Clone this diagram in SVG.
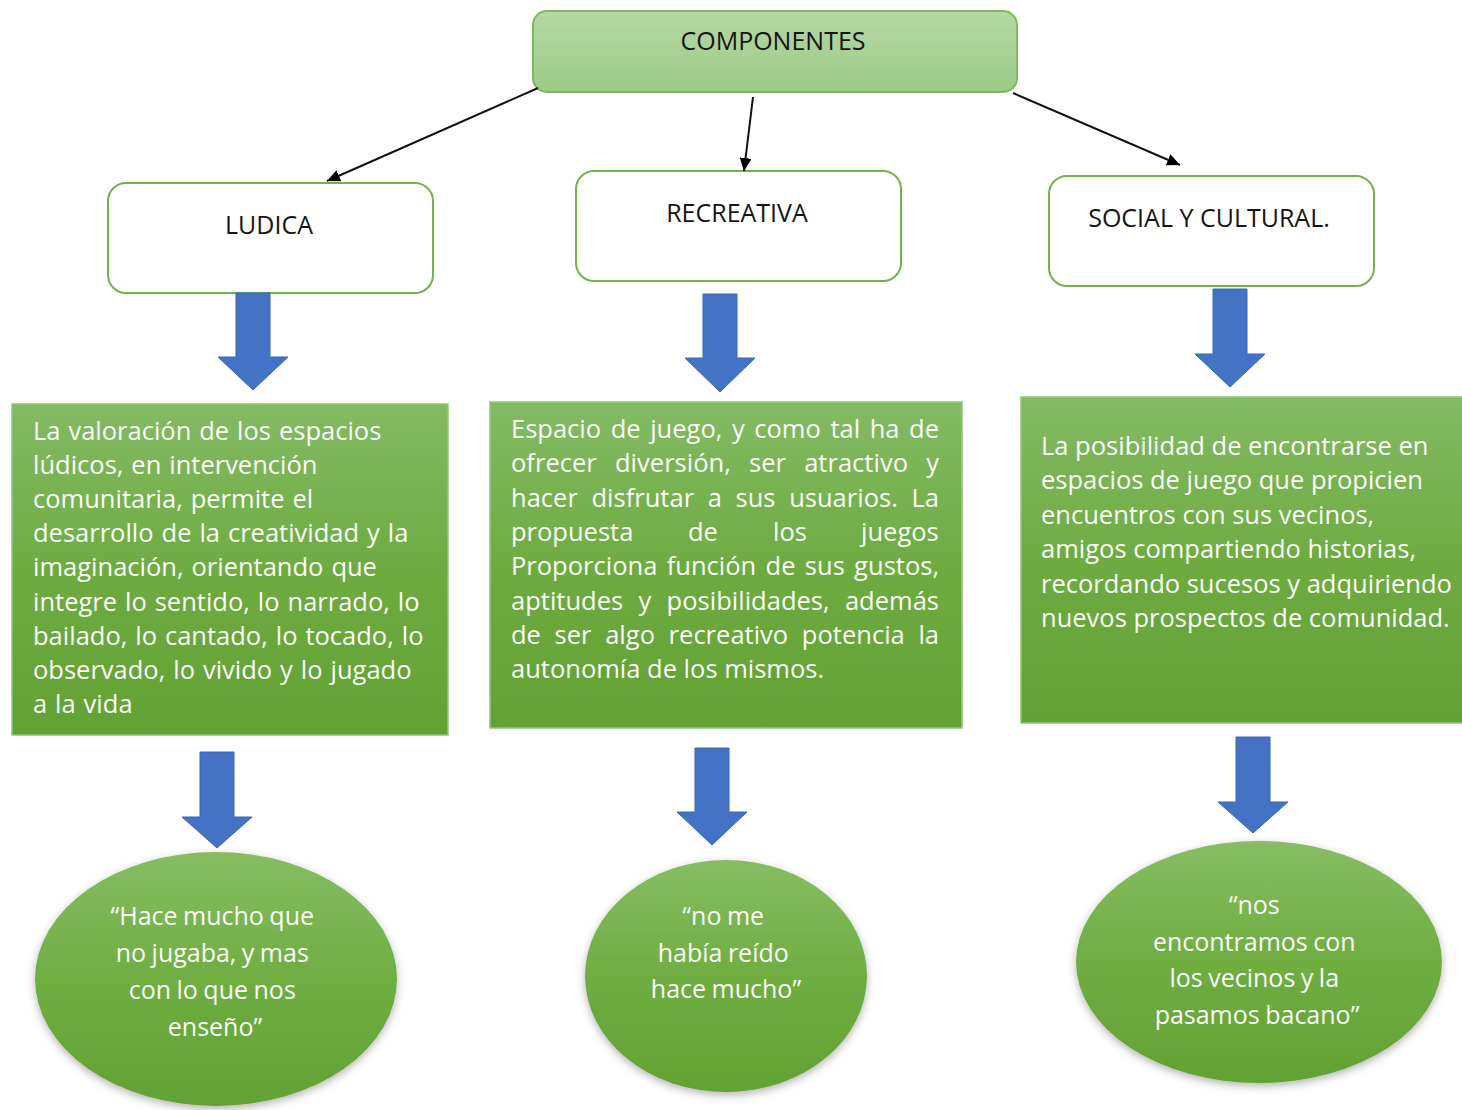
<svg xmlns="http://www.w3.org/2000/svg" width="1462" height="1110" viewBox="0 0 1462 1110">
  <defs>
    <linearGradient id="gTop" x1="0" y1="0" x2="0" y2="1">
      <stop offset="0" stop-color="#b5d8a6"/>
      <stop offset="1" stop-color="#9ccb85"/>
    </linearGradient>
    <linearGradient id="gBox" x1="0" y1="0" x2="0" y2="1">
      <stop offset="0" stop-color="#83ba64"/>
      <stop offset="0.5" stop-color="#6eac42"/>
      <stop offset="1" stop-color="#62a133"/>
    </linearGradient>
    <linearGradient id="gEll" x1="0" y1="0" x2="0" y2="1">
      <stop offset="0" stop-color="#86bd62"/>
      <stop offset="0.5" stop-color="#6fae42"/>
      <stop offset="1" stop-color="#62a133"/>
    </linearGradient>
    <filter id="shadow" x="-10%" y="-10%" width="120%" height="125%">
      <feDropShadow dx="0" dy="3" stdDeviation="4" flood-color="#000" flood-opacity="0.3"/>
    </filter>
    <marker id="arrow" markerUnits="userSpaceOnUse" markerWidth="14" markerHeight="12" refX="13" refY="6" orient="auto">
      <path d="M0,0 L13,6 L0,12 Z" fill="#000"/>
    </marker>
    <style>
      .lbl { font-family: "Open Sans", "Noto Sans", sans-serif; font-size: 25px; fill: #151515; text-anchor: middle; }
      .lbox { fill: #ffffff; stroke: #74b14f; stroke-width: 2; }
      .gbox { fill: url(#gBox); stroke: #93c676; stroke-width: 1.5; }
      .ell { fill: url(#gEll); filter: url(#shadow); }
      .body { font-family: "Open Sans", "Noto Sans", sans-serif; font-size: 25.5px; fill: #fbfdf8; }
      .wide { word-spacing: 1.3px; }
      .quote { font-family: "Open Sans", "Noto Sans", sans-serif; font-size: 25px; fill: #fbfdf8; text-anchor: middle; word-spacing: -1px; }
      .conn { stroke: #111; stroke-width: 2; fill: none; marker-end: url(#arrow); }
      .blk { fill: #4472c4; stroke: #3b66b3; stroke-width: 1; }
    </style>
  </defs>

  <g id="componentes">
    <rect x="533" y="11" width="484" height="81" rx="14" fill="url(#gTop)" stroke="#7cb95c" stroke-width="2"/>
    <text class="lbl" x="773" y="50">COMPONENTES</text>
  </g>

  <g id="ludica">
    <rect class="lbox" x="108" y="183" width="325" height="110" rx="18"/>
    <text class="lbl" x="269" y="234">LUDICA</text>
  </g>

  <g id="recreativa">
    <rect class="lbox" x="576" y="171" width="325" height="110" rx="18"/>
    <text class="lbl" x="737" y="222">RECREATIVA</text>
  </g>

  <g id="social">
    <rect class="lbox" x="1049" y="176" width="325" height="110" rx="18"/>
    <text class="lbl" x="1209" y="227">SOCIAL Y CULTURAL.</text>
  </g>

  <g id="connectors">
    <line class="conn" x1="538" y1="88" x2="327" y2="181"/>
    <line class="conn" x1="753" y1="97" x2="744" y2="171"/>
    <line class="conn" x1="1013" y1="93" x2="1180" y2="165"/>
    <path class="blk" d="M236,293 H270 V357 H288 L253,390 L218,357 H236 Z"/>
    <path class="blk" d="M703,294 H737 V358 H755 L720,392 L685,358 H703 Z"/>
    <path class="blk" d="M1213,289 H1247 V354 H1265 L1230,387 L1195,354 H1213 Z"/>
    <path class="blk" d="M200,752 H234 V817 H252 L217,848 L182,817 H200 Z"/>
    <path class="blk" d="M695,748 H729 V812 H747 L712,845 L677,812 H695 Z"/>
    <path class="blk" d="M1236,737 H1270 V802 H1288 L1253,833 L1218,802 H1236 Z"/>
  </g>

  <g id="texto-ludica">
    <rect class="gbox" x="12" y="404" width="436" height="331"/>
    <text class="body wide">
      <tspan x="33" y="440">La valoración de los espacios</tspan>
      <tspan x="33" y="474.1">lúdicos, en intervención</tspan>
      <tspan x="33" y="508.2">comunitaria, permite el</tspan>
      <tspan x="33" y="542.3">desarrollo de la creatividad y la</tspan>
      <tspan x="33" y="576.4">imaginación, orientando que</tspan>
      <tspan x="33" y="610.5">integre lo sentido, lo narrado, lo</tspan>
      <tspan x="33" y="644.6">bailado, lo cantado, lo tocado, lo</tspan>
      <tspan x="33" y="678.7">observado, lo vivido y lo jugado</tspan>
      <tspan x="33" y="712.8">a la vida</tspan>
    </text>
  </g>

  <g id="texto-recreativa">
    <rect class="gbox" x="490" y="402" width="472" height="326"/>
    <text class="body" x="511" y="438" word-spacing="3" textLength="428" lengthAdjust="spacing">Espacio de juego, y como tal ha de</text>
    <text class="body" x="511" y="472.3" word-spacing="11.5" textLength="428" lengthAdjust="spacing">ofrecer diversión, ser atractivo y</text>
    <text class="body" x="511" y="506.6" word-spacing="7" textLength="428" lengthAdjust="spacing">hacer disfrutar a sus usuarios. La</text>
    <text class="body" y="540.9"><tspan x="511">propuesta</tspan><tspan x="688">de</tspan><tspan x="773">los</tspan><tspan x="861">juegos</tspan></text>
    <text class="body" x="511" y="575.2" word-spacing="2.7" textLength="428" lengthAdjust="spacing">Proporciona función de sus gustos,</text>
    <text class="body" x="511" y="609.5" word-spacing="8.7" textLength="428" lengthAdjust="spacing">aptitudes y posibilidades, además</text>
    <text class="body" x="511" y="643.8" word-spacing="7" textLength="428" lengthAdjust="spacing">de ser algo recreativo potencia la</text>
    <text class="body" x="511" y="678.1">autonomía de los mismos.</text>
  </g>

  <g id="texto-social">
    <rect class="gbox" x="1021" y="397" width="443" height="326"/>
    <text class="body">
      <tspan x="1041" y="455">La posibilidad de encontrarse en</tspan>
      <tspan x="1041" y="489.4">espacios de juego que propicien</tspan>
      <tspan x="1041" y="523.8">encuentros con sus vecinos,</tspan>
      <tspan x="1041" y="558.2">amigos compartiendo historias,</tspan>
      <tspan x="1041" y="592.6">recordando sucesos y adquiriendo</tspan>
      <tspan x="1041" y="627">nuevos prospectos de comunidad.</tspan>
    </text>
  </g>

  <g id="cita-ludica">
    <ellipse class="ell" cx="216" cy="979" rx="181" ry="127"/>
    <text class="quote">
      <tspan x="215" y="925">“Hace mucho que</tspan>
      <tspan x="215" y="962">no jugaba, y mas</tspan>
      <tspan x="215" y="999">con lo que nos</tspan>
      <tspan x="215" y="1036">enseño”</tspan>
    </text>
  </g>

  <g id="cita-recreativa">
    <ellipse class="ell" cx="726" cy="976" rx="141" ry="116"/>
    <text class="quote">
      <tspan x="726" y="925">“no me</tspan>
      <tspan x="726" y="962">había reído</tspan>
      <tspan x="726" y="998">hace mucho”</tspan>
    </text>
  </g>

  <g id="cita-social">
    <ellipse class="ell" cx="1259" cy="962" rx="183" ry="121"/>
    <text class="quote">
      <tspan x="1257" y="914">“nos</tspan>
      <tspan x="1257" y="950.7">encontramos con</tspan>
      <tspan x="1257" y="987.3">los vecinos y la</tspan>
      <tspan x="1257" y="1024">pasamos bacano”</tspan>
    </text>
  </g>
</svg>
